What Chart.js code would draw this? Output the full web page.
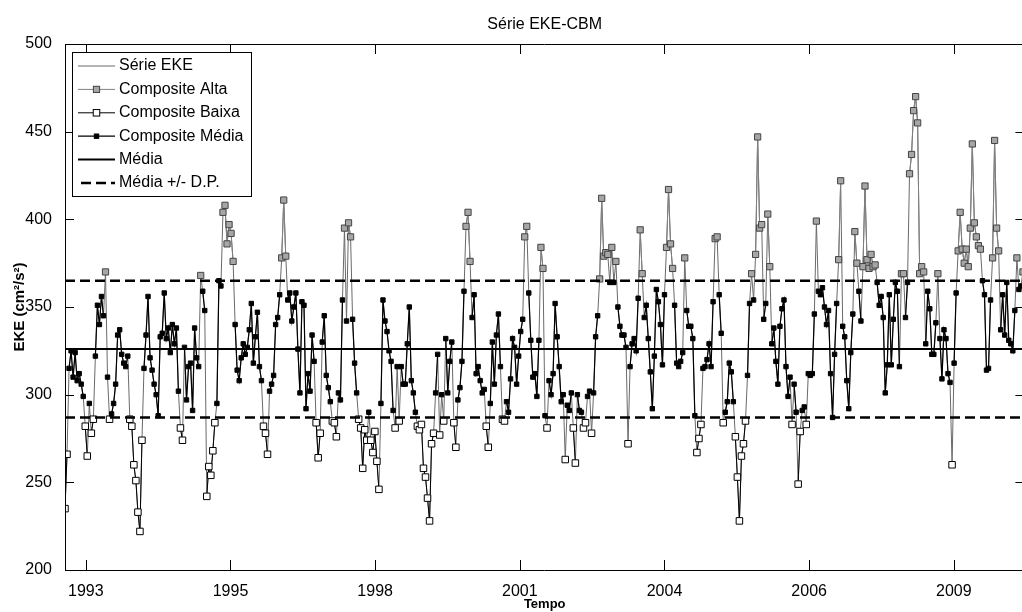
<!DOCTYPE html>
<html lang="pt">
<head>
<meta charset="utf-8">
<title>Série EKE-CBM</title>
<script src="https://cdn.jsdelivr.net/npm/chart.js"></script>
<style>
    html, body { margin: 0; padding: 0; background: #fff; overflow: hidden; }
    #wrap { position: relative; width: 1030px; height: 612px; }
</style>
</head>
<body>
<div id="wrap"><canvas id="grafico" width="1030" height="612"></canvas></div>
<script>
// Série de EKE (cm²/s²), uma amostra a cada 14 dias a partir de out/1992
const inicioDia = 727856;   // datenum do primeiro ponto
const passoDias = 14;
const eke = [
    235, 266, 315, 325, 310, 324, 308, 312, 306, 299,
    282, 265, 295, 278, 286, 322, 351, 340, 356, 345,
    370, 310, 286, 289, 295, 306, 334, 337, 323, 318,
    316, 322, 286, 282, 260, 251, 233, 222, 274, 315,
    334, 356, 321, 314, 306, 300, 288, 333, 335, 358,
    332, 338, 324, 340, 329, 338, 302, 281, 274, 327,
    297, 316, 318, 291, 338, 321, 316, 368, 359, 348,
    242, 259, 254, 268, 284, 295, 365, 362, 404, 408,
    386, 397, 392, 376, 340, 314, 308, 321, 329, 323,
    327, 337, 352, 318, 333, 347, 316, 308, 282, 278,
    266, 302, 306, 311, 340, 344, 357, 378, 411, 379,
    354, 358, 342, 350, 358, 326, 301, 353, 351, 292,
    312, 302, 334, 319, 284, 264, 278, 330, 345, 311,
    304, 296, 285, 284, 276, 301, 297, 354, 395, 342,
    398, 390, 343, 318, 301, 286, 281, 258, 280, 274,
    290, 274, 267, 279, 262, 246, 295, 354, 342, 336,
    325, 319, 291, 281, 316, 285, 316, 306, 306, 329,
    350, 308, 301, 290, 282, 280, 283, 258, 253, 241,
    228, 272, 278, 301, 323, 277, 300, 285, 332, 301,
    319, 330, 284, 270, 297, 304, 319, 359, 396, 404,
    376, 344, 357, 312, 316, 308, 301, 303, 282, 270,
    295, 330, 306, 334, 346, 316, 286, 285, 296, 290,
    309, 332, 327, 306, 322, 336, 343, 390, 396, 358,
    331, 310, 312, 299, 331, 384, 372, 288, 281, 308,
    300, 312, 352, 333, 316, 296, 300, 263, 294, 291,
    301, 281, 261, 300, 291, 290, 281, 284, 299, 302,
    278, 301, 333, 345, 366, 412, 379, 381, 380, 364,
    384, 364, 376, 350, 339, 334, 334, 327, 272, 316,
    329, 332, 325, 355, 394, 369, 344, 351, 332, 313,
    292, 322, 360, 353, 340, 317, 357, 384, 417, 386,
    372, 351, 318, 316, 319, 324, 378, 348, 339, 339,
    332, 288, 267, 275, 283, 315, 316, 320, 329, 316,
    353, 389, 390, 357, 335, 284, 290, 296, 318, 313,
    296, 276, 253, 228, 265, 272, 285, 311, 352, 369,
    354, 380, 447, 395, 397, 343, 352, 403, 373, 329,
    338, 319, 306, 339, 349, 354, 316, 299, 310, 283,
    306, 290, 249, 279, 291, 293, 283, 312, 311, 312,
    346, 399, 359, 357, 361, 350, 340, 348, 312, 287,
    323, 352, 377, 422, 339, 333, 308, 292, 324, 346,
    393, 375, 359, 342, 373, 419, 377, 372, 380, 373,
    374, 364, 351, 356, 344, 301, 317, 357, 317, 343,
    364, 359, 316, 369, 369, 344, 364, 426, 437, 462,
    470, 455, 369, 373, 370, 329, 359, 349, 323, 323,
    341, 369, 332, 309, 337, 332, 312, 307, 260, 318,
    358, 382, 404, 383, 375, 383, 373, 395, 443, 398,
    390, 385, 383, 365, 357, 314, 315, 354, 378, 445,
    395, 382, 337, 357, 334, 364, 331, 329, 325, 348,
    378, 360, 362, 370
];

// Média e desvio padrão da série
const media = 326;
const desvio = 39;

// Eixos: limites em datenum, marcas e rótulos
const xMin = 727856;
const xMax = 734488;
const ticksDias = [728000, 729000, 730000, 731000, 732000, 733000, 734000];
const ticksAnos = ['1993', '1995', '1998', '2001', '2004', '2006', '2009'];
const ticksEke = [200, 250, 300, 350, 400, 450, 500];

const fonte = '"Liberation Sans", Arial, Helvetica, sans-serif';

// Pontos da série e composites (null fora da faixa, para quebrar a linha)
function serie(teste) {
    return eke.map((v, i) => ({ x: inicioDia + passoDias * i, y: teste(v) ? v : null }));
}
const limSup = media + desvio;
const limInf = media - desvio;

const datasets = [
    {
        label: 'Série EKE',
        data: serie(() => true),
        borderColor: '#6a6a6a',
        borderWidth: 1,
        pointRadius: 0,
        order: 6
    },
    {
        label: 'Composite Alta',
        data: serie(v => v > limSup),
        borderColor: '#808080',
        borderWidth: 1,
        pointStyle: 'rect',
        pointRadius: 4.4,
        pointBackgroundColor: '#a6a6a6',
        pointBorderColor: '#444',
        pointBorderWidth: 1,
        order: 4
    },
    {
        label: 'Composite Baixa',
        data: serie(v => v < limInf),
        borderColor: '#000',
        borderWidth: 1,
        pointStyle: 'rect',
        pointRadius: 4.6,
        pointBackgroundColor: '#fff',
        pointBorderColor: '#000',
        pointBorderWidth: 1,
        order: 3
    },
    {
        label: 'Composite Média',
        data: serie(v => v >= limInf && v <= limSup),
        borderColor: '#000',
        borderWidth: 1.2,
        pointStyle: 'rect',
        pointRadius: 3.1,
        pointBackgroundColor: '#000',
        pointBorderColor: '#000',
        pointBorderWidth: 1,
        order: 2
    },
    {
        label: 'Média',
        data: [{ x: xMin, y: media }, { x: xMax, y: media }],
        borderColor: '#000',
        borderWidth: 2,
        pointRadius: 0,
        order: 1
    },
    {
        label: 'Média +/- D.P.',
        data: [{ x: xMin, y: limSup }, { x: xMax, y: limSup }],
        borderColor: '#000',
        borderWidth: 2.5,
        borderDash: [10, 5],
        pointRadius: 0,
        order: 1
    },
    {
        label: '',
        data: [{ x: xMin, y: limInf }, { x: xMax, y: limInf }],
        borderColor: '#000',
        borderWidth: 2.5,
        borderDash: [10, 5],
        pointRadius: 0,
        order: 1
    }
];

// Moldura, marcas internas, título e legenda no estilo MATLAB
const moldura = {
    id: 'moldura',
    afterDraw(chart) {
        const ctx = chart.ctx;
        const a = chart.chartArea;
        const sx = chart.scales.x;
        const sy = chart.scales.y;
        ctx.save();
        ctx.strokeStyle = '#000';
        ctx.lineWidth = 1;
        ctx.beginPath();
        ctx.rect(Math.round(a.left) + 0.5, Math.round(a.top) + 0.5,
                 Math.round(a.right - a.left) - 1, Math.round(a.bottom - a.top));
        sx.ticks.forEach(t => {
            const px = Math.round(sx.getPixelForValue(t.value)) + 0.5;
            ctx.moveTo(px, a.bottom); ctx.lineTo(px, a.bottom - 10);
            ctx.moveTo(px, a.top); ctx.lineTo(px, a.top + 10);
        });
        sy.ticks.forEach(t => {
            const py = Math.round(sy.getPixelForValue(t.value)) + 0.5;
            ctx.moveTo(a.left, py); ctx.lineTo(a.left + 9, py);
            ctx.moveTo(a.right, py); ctx.lineTo(a.right - 9, py);
        });
        ctx.stroke();

        // título
        ctx.fillStyle = '#000';
        ctx.font = '16px ' + fonte;
        ctx.textAlign = 'center';
        ctx.textBaseline = 'middle';
        ctx.fillText('Série EKE-CBM', (a.left + a.right) / 2, 25);

        // legenda
        const bx = 72, by = 52, bw = 179, bh = 144;
        ctx.fillStyle = '#fff';
        ctx.fillRect(bx, by, bw, bh);
        ctx.strokeStyle = '#000';
        ctx.strokeRect(bx + 0.5, by + 0.5, bw, bh);
        const itens = chart.data.datasets.filter(d => d.label);
        itens.forEach((d, k) => {
            const y = 66 + k * 23.4;
            ctx.save();
            ctx.strokeStyle = d.borderColor;
            ctx.lineWidth = d.borderWidth;
            ctx.setLineDash(d.borderDash || []);
            ctx.beginPath();
            ctx.moveTo(d.borderDash ? 81 : 78, y);
            ctx.lineTo(115, y);
            ctx.stroke();
            ctx.restore();
            if (d.pointRadius > 0) {
                const lado = d.pointRadius * Math.SQRT2;
                ctx.fillStyle = d.pointBackgroundColor;
                ctx.fillRect(96.5 - lado / 2, y - lado / 2, lado, lado);
                ctx.strokeStyle = d.pointBorderColor;
                ctx.strokeRect(96.5 - lado / 2, y - lado / 2, lado, lado);
            }
            ctx.fillStyle = '#000';
            ctx.font = '16px ' + fonte;
            ctx.textAlign = 'left';
            ctx.textBaseline = 'middle';
            ctx.fillText(d.label, 119, y);
        });
        ctx.restore();
    }
};

new Chart(document.getElementById('grafico'), {
    type: 'line',
    data: { datasets: datasets },
    options: {
        responsive: false,
        animation: false,
        devicePixelRatio: 1,
        events: [],
        spanGaps: false,
        layout: { padding: { top: 44, right: 3, left: 0, bottom: 0 } },
        plugins: {
            legend: { display: false },
            title: { display: false },
            tooltip: { enabled: false }
        },
        scales: {
            x: {
                type: 'linear',
                min: xMin,
                max: xMax,
                grid: { display: false },
                border: { display: false },
                afterBuildTicks: s => { s.ticks = ticksDias.map(v => ({ value: v })); },
                afterFit: s => { s.height = 42; },
                ticks: {
                    autoSkip: false,
                    maxRotation: 0,
                    padding: 4,
                    color: '#000',
                    font: { family: fonte, size: 16 },
                    callback: v => ticksAnos[ticksDias.indexOf(v)]
                },
                title: {
                    display: true,
                    text: 'Tempo',
                    color: '#000',
                    font: { family: fonte, size: 13, weight: 'bold' },
                    padding: { top: 0, bottom: 0 }
                }
            },
            y: {
                min: 200,
                max: 500,
                grid: { display: false },
                border: { display: false },
                afterBuildTicks: s => { s.ticks = ticksEke.map(v => ({ value: v })); },
                afterFit: s => { s.width = 65; },
                ticks: {
                    padding: 5,
                    color: '#000',
                    font: { family: fonte, size: 16 }
                },
                title: {
                    display: true,
                    text: 'EKE (cm²/s²)',
                    color: '#000',
                    font: { family: fonte, size: 15, weight: 'bold' },
                    padding: { top: 11, bottom: 0 }
                }
            }
        }
    },
    plugins: [moldura]
});
</script>
</body>
</html>
